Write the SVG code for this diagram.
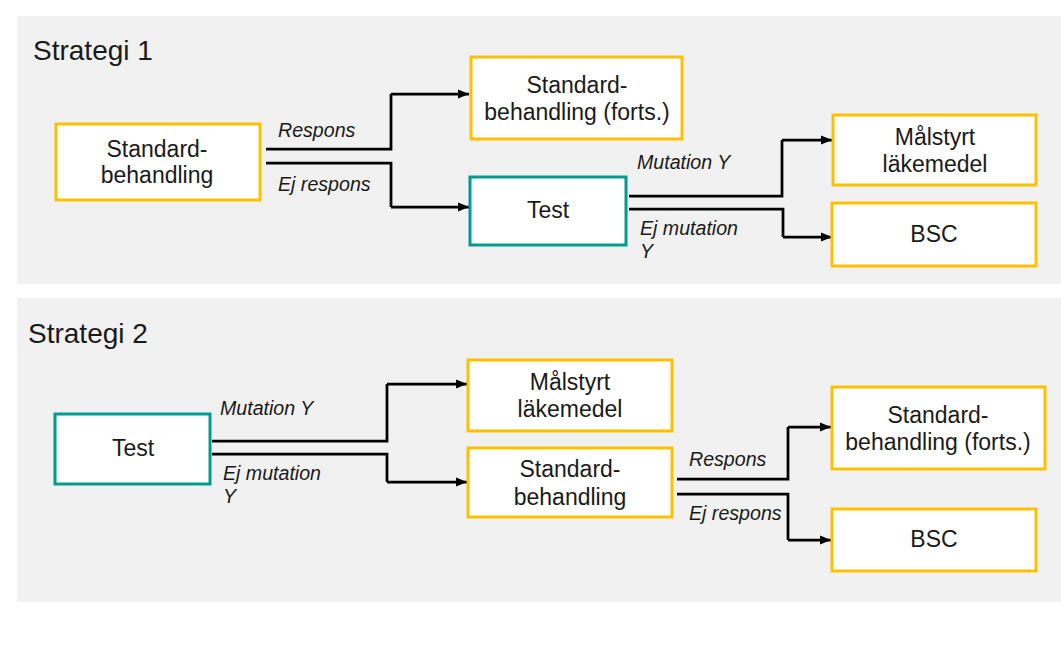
<svg xmlns="http://www.w3.org/2000/svg" width="1061" height="645" viewBox="0 0 1061 645">
  <defs>
    <marker id="arrow" markerUnits="userSpaceOnUse" markerWidth="12" markerHeight="10" refX="11" refY="5" orient="auto">
      <path d="M0,0.5 L11,5 L0,9.5 Z" fill="#000"/>
    </marker>
    <style>
      .panel { fill: #f1f1f1; }
      .title { font-family: "Liberation Sans", Arial, sans-serif; font-size: 28px; fill: #1a1a1a; }
      .box-y { fill: #fff; stroke: #ffc000; stroke-width: 3; }
      .box-t { fill: #fff; stroke: #009b8f; stroke-width: 3; }
      .lbl { font-family: "Liberation Sans", Arial, sans-serif; font-size: 23px; fill: #1a1a1a; text-anchor: middle; }
      .edge-lbl { font-family: "Liberation Sans", Arial, sans-serif; font-size: 19.6px; font-style: italic; fill: #1a1a1a; }
      .wire { fill: none; stroke: #000; stroke-width: 2.75; stroke-linejoin: miter; }
      .arr { marker-end: url(#arrow); }
    </style>
  </defs>

  <rect width="1061" height="645" fill="#fff"/>

  <!-- Panels -->
  <rect class="panel" x="17" y="16" width="1044" height="268"/>
  <rect class="panel" x="17" y="298" width="1044" height="304"/>
  <text class="title" x="33" y="60">Strategi 1</text>
  <text class="title" x="28" y="343">Strategi 2</text>

  <!-- Connectors -->
  <g id="connectors">
    <!-- Strategi 1 -->
    <path class="wire" d="M266,149 H391 V94"/>
    <path class="wire arr" d="M391,94 H469"/>
    <path class="wire" d="M266,163 H391 V207"/>
    <path class="wire arr" d="M391,207 H469"/>
    <path class="wire" d="M629,196 H782 V140"/>
    <path class="wire arr" d="M782,140 H832"/>
    <path class="wire" d="M629,209 H783 V237"/>
    <path class="wire arr" d="M783,237 H832"/>
    <!-- Strategi 2 -->
    <path class="wire" d="M212,441 H387 V384"/>
    <path class="wire arr" d="M387,384 H467"/>
    <path class="wire" d="M212,454 H387 V482"/>
    <path class="wire arr" d="M387,482 H467"/>
    <path class="wire" d="M677,479 H788 V427"/>
    <path class="wire arr" d="M788,427 H831"/>
    <path class="wire" d="M677,494 H788 V540"/>
    <path class="wire arr" d="M788,540 H831"/>

    <text class="edge-lbl" x="278" y="137">Respons</text>
    <text class="edge-lbl" x="278" y="191">Ej respons</text>
    <text class="edge-lbl" x="637" y="169">Mutation Y</text>
    <text class="edge-lbl" x="640" y="235">Ej mutation</text>
    <text class="edge-lbl" x="640" y="258">Y</text>
    <text class="edge-lbl" x="220" y="415">Mutation Y</text>
    <text class="edge-lbl" x="223" y="480">Ej mutation</text>
    <text class="edge-lbl" x="223" y="503">Y</text>
    <text class="edge-lbl" x="689" y="466">Respons</text>
    <text class="edge-lbl" x="689" y="520">Ej respons</text>
  </g>

  <!-- Strategi 1 nodes -->
  <g id="s1-standard">
    <rect class="box-y" x="56" y="124" width="204" height="76"/>
    <text class="lbl" x="157" y="157">Standard-</text>
    <text class="lbl" x="157" y="183">behandling</text>
  </g>
  <g id="s1-standard-forts">
    <rect class="box-y" x="471" y="57" width="211" height="82"/>
    <text class="lbl" x="577" y="93">Standard-</text>
    <text class="lbl" x="577" y="120">behandling (forts.)</text>
  </g>
  <g id="s1-test">
    <rect class="box-t" x="470" y="177" width="156" height="68"/>
    <text class="lbl" x="548" y="218">Test</text>
  </g>
  <g id="s1-malstyrt">
    <rect class="box-y" x="833" y="115" width="203" height="70"/>
    <text class="lbl" x="935" y="145">Målstyrt</text>
    <text class="lbl" x="935" y="172">läkemedel</text>
  </g>
  <g id="s1-bsc">
    <rect class="box-y" x="832" y="203" width="204" height="63"/>
    <text class="lbl" x="934" y="242">BSC</text>
  </g>

  <!-- Strategi 2 nodes -->
  <g id="s2-test">
    <rect class="box-t" x="55" y="414" width="155" height="70"/>
    <text class="lbl" x="133" y="456">Test</text>
  </g>
  <g id="s2-malstyrt">
    <rect class="box-y" x="468" y="360" width="204" height="71"/>
    <text class="lbl" x="570" y="390">Målstyrt</text>
    <text class="lbl" x="570" y="417">läkemedel</text>
  </g>
  <g id="s2-standard">
    <rect class="box-y" x="468" y="448" width="204" height="69"/>
    <text class="lbl" x="570" y="477">Standard-</text>
    <text class="lbl" x="570" y="505">behandling</text>
  </g>
  <g id="s2-standard-forts">
    <rect class="box-y" x="832" y="387" width="213" height="82"/>
    <text class="lbl" x="938" y="423">Standard-</text>
    <text class="lbl" x="938" y="450">behandling (forts.)</text>
  </g>
  <g id="s2-bsc">
    <rect class="box-y" x="832" y="509" width="204" height="62"/>
    <text class="lbl" x="934" y="547">BSC</text>
  </g>
</svg>
